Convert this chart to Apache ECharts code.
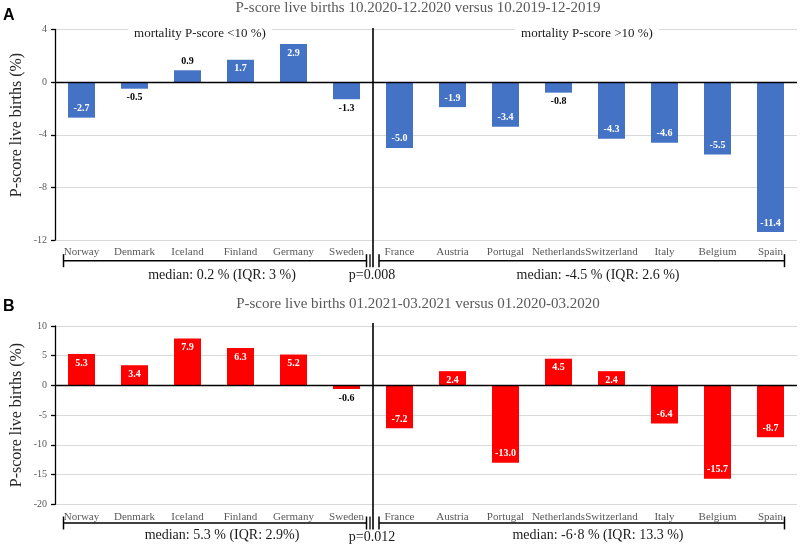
<!DOCTYPE html>
<html><head><meta charset="utf-8">
<script src="https://cdn.jsdelivr.net/npm/echarts@6/dist/echarts.min.js"></script>
<style>html,body{margin:0;padding:0;background:#fff}#c{width:800px;height:547px}</style>
</head><body><div id="c"></div>
<script>
const countries = ['Norway','Denmark','Iceland','Finland','Germany','Sweden','France','Austria','Portugal','Netherlands','Switzerland','Italy','Belgium','Spain'];
const valuesA = [-2.7,-0.5,0.9,1.7,2.9,-1.3,-5.0,-1.9,-3.4,-0.8,-4.3,-4.6,-5.5,-11.4];
const valuesB = [5.3,3.4,7.9,6.3,5.2,-0.6,-7.2,2.4,-13.0,4.5,2.4,-6.4,-15.7,-8.7];
const titles = ['P-score live births 10.2020-12.2020 versus 10.2019-12-2019','P-score live births 01.2021-03.2021 versus 01.2020-03.2020'];
const panelLetters = ['A','B'];
const groupLabelsA = ['mortality P-score <10 %)','mortality P-score >10 %)'];
const mediansA = ['median: 0.2 % (IQR: 3 %)','median: -4.5 % (IQR: 2.6 %)'];
const mediansB = ['median: 5.3 % (IQR: 2.9%)','median: -6·8 % (IQR: 13.3 %)'];
const pValues = ['p=0.008','p=0.012'];
const yAxisName = 'P-score live births (%)';
const yRangeA = [-12, 4, 4];   // min, max, interval
const yRangeB = [-20, 10, 5];

const SERIF = '"Liberation Serif","Times New Roman",serif';
const SANS = '"Liberation Sans",Arial,sans-serif';
const chart = echarts.init(document.getElementById('c'), null, {renderer:'canvas'});

function items(vals, thr){
  return vals.map(v=>{
    const inside = Math.abs(v) >= thr;
    const pos = v>=0 ? (inside?'insideTop':'top') : (inside?'insideBottom':'bottom');
    return {value:v, label:{position:pos, color: inside?'#ffffff':'#000000'}};
  });
}
function xAxis(gi){
  return {type:'category', gridIndex:gi, data:countries,
    axisLine:{show:false,onZero:false}, axisTick:{show:false},
    axisLabel:{interval:0, margin:7, fontSize:11, color:'#595959', fontFamily:SERIF},
    splitLine:{show:false}};
}
function yAxis(gi, r){
  return {type:'value', gridIndex:gi, min:r[0], max:r[1], interval:r[2],
    axisLine:{show:true, lineStyle:{color:'#000', width:1.3}},
    axisTick:{show:true, length:4, lineStyle:{color:'#000', width:1.3}},
    axisLabel:{fontSize:10, color:'#595959', fontFamily:SERIF, margin:8},
    splitLine:{show:true, lineStyle:{color:'#d9d9d9', width:1}}};
}
function series(gi, vals, thr, color){
  return {type:'bar', xAxisIndex:gi, yAxisIndex:gi, data:items(vals,thr), barWidth:27,
    itemStyle:{color:color},
    label:{show:true, formatter:p=>Number(p.value).toFixed(1), fontFamily:SERIF, fontWeight:'bold', fontSize:10, distance:4},
    markLine:{silent:true, symbol:'none', label:{show:false}, lineStyle:{color:'#000', width:1.3, type:'solid'}, data:[{yAxis:0}]}};
}

chart.setOption({
  animation:false,
  grid:[{left:55, right:3, top:29.5, bottom:307},{left:55, right:3, top:326, bottom:42.7}],
  xAxis:[xAxis(0), xAxis(1)],
  yAxis:[yAxis(0,yRangeA), yAxis(1,yRangeB)],
  series:[series(0,valuesA,1.5,'#4472C4'), series(1,valuesB,1.0,'#FF0000')]
});

function line(x1,y1,x2,y2,w){return {type:'line', silent:true, z:100, shape:{x1,y1,x2,y2}, style:{stroke:'#000', lineWidth:w||1.5}};}
function text(t,x,y,font,fill,align,extra){return {type:'text', silent:true, z:101, style:Object.assign({text:t, x, y, font, fill, textAlign:align||'center', textVerticalAlign:'middle'}, extra||{})};}

const g = [];
const panels = [
  {gi:0, r:yRangeA, med:mediansA, p:pValues[0], title:titles[0], letter:panelLetters[0], titleY:8, letterY:15.5, divTop:-1.5, divBot:27, brk:20.7, medY:35, pY:35, nameY:125},
  {gi:1, r:yRangeB, med:mediansB, p:pValues[1], title:titles[1], letter:panelLetters[1], titleY:304, letterY:307, divTop:-3, divBot:26, brk:18.7, medY:31, pY:33, nameY:415}
];
panels.forEach(P=>{
  const cx = i => chart.convertToPixel({xAxisIndex:P.gi}, countries[i]);
  const yTop = chart.convertToPixel({yAxisIndex:P.gi}, P.r[1]);
  const yBot = chart.convertToPixel({yAxisIndex:P.gi}, P.r[0]);
  const band = cx(1)-cx(0);
  const divX = (cx(5)+cx(6))/2;
  const left0 = cx(0)-band/2, right1 = cx(13)+band/2;
  const by = yBot + P.brk;
  // divider
  g.push(line(divX, yTop+P.divTop, divX, by+6.5, 1.6));
  g.push(line(divX-3, by-6.5, divX-3, by+6.5, 1.3));
  // left bracket
  const lx1 = left0+8.5, lx2 = divX-6.5;
  g.push(line(lx1, by, lx2, by, 1.5));
  g.push(line(lx1, by-6.5, lx1, by+6.5, 1.5));
  g.push(line(lx2, by-6.5, lx2, by+6.5, 1.5));
  // right bracket
  const rx1 = divX+6, rx2 = right1-12.5;
  g.push(line(rx1, by, rx2, by, 1.5));
  g.push(line(rx1, by-6.5, rx1, by+6.5, 1.5));
  g.push(line(rx2, by-6.5, rx2, by+6.5, 1.5));
  // medians and p
  g.push(text(P.med[0], (cx(0)+cx(5))/2+8, yBot+P.medY, '14px '+SERIF, '#1a1a1a'));
  g.push(text(P.med[1], (cx(6)+cx(13))/2+13, yBot+P.medY, '14px '+SERIF, '#1a1a1a'));
  g.push(text(P.p, divX-1, yBot+P.pY, '14px '+SERIF, '#1a1a1a'));
  // title, letter, axis name
  g.push(text(P.title, 418, P.titleY, '15px '+SERIF, '#595959'));
  g.push(text(P.letter, 3, P.letterY, 'bold 16px '+SANS, '#000', 'left'));
  g.push({type:'text', silent:true, z:101, x:17, y:P.nameY, rotation:Math.PI/2,
    style:{text:yAxisName, x:0, y:0, font:'16px '+SERIF, fill:'#262626', textAlign:'center', textVerticalAlign:'middle'}});
  if (P.gi===0){
    g.push(text(groupLabelsA[0], (cx(0)+cx(5))/2-14, yTop+4.5, '13px '+SERIF, '#1a1a1a', 'center', {backgroundColor:'#fff', padding:[2,6]}));
    g.push(text(groupLabelsA[1], (cx(6)+cx(13))/2+2, yTop+4.5, '13px '+SERIF, '#1a1a1a', 'center', {backgroundColor:'#fff', padding:[2,6]}));
  }
});
chart.setOption({graphic:g});
</script></body></html>
